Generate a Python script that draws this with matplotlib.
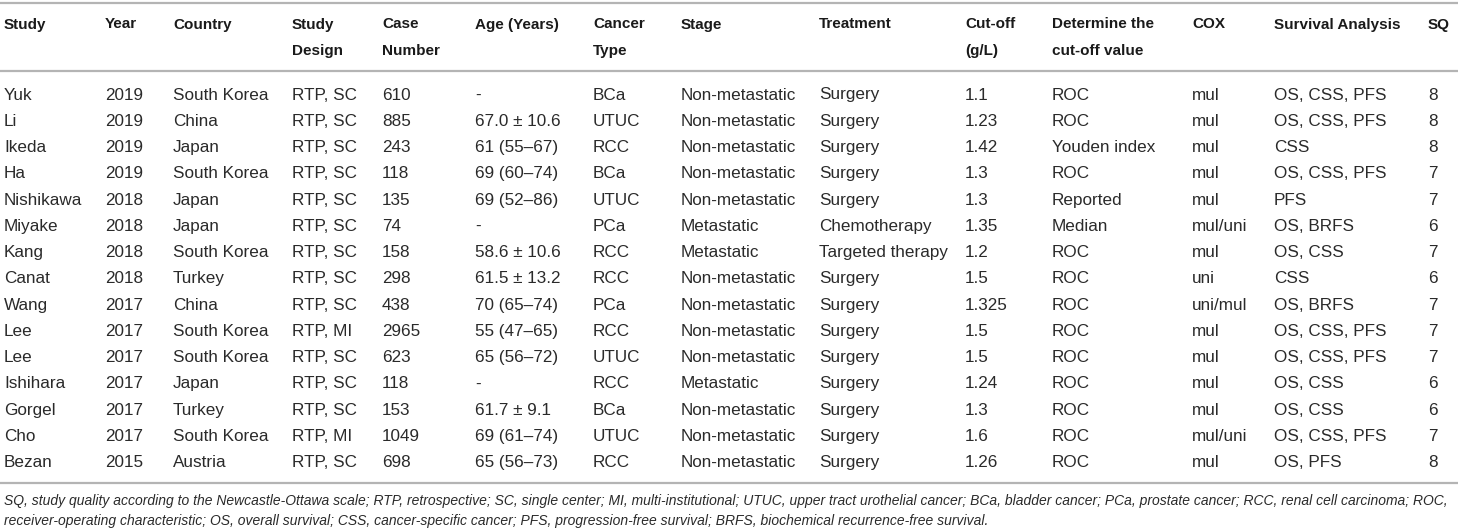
import matplotlib.pyplot as plt
from matplotlib.lines import Line2D

plt.rcParams['font.family'] = ['Liberation Sans', 'DejaVu Sans']

# ---- table data ----
study = ["Yuk", "Li", "Ikeda", "Ha", "Nishikawa", "Miyake", "Kang", "Canat", "Wang",
         "Lee", "Lee", "Ishihara", "Gorgel", "Cho", "Bezan"]
year = ["2019", "2019", "2019", "2019", "2018", "2018", "2018", "2018", "2017",
        "2017", "2017", "2017", "2017", "2017", "2015"]
country = ["South Korea", "China", "Japan", "South Korea", "Japan", "Japan", "South Korea",
           "Turkey", "China", "South Korea", "South Korea", "Japan", "Turkey",
           "South Korea", "Austria"]
design = ["RTP, SC", "RTP, SC", "RTP, SC", "RTP, SC", "RTP, SC", "RTP, SC", "RTP, SC",
          "RTP, SC", "RTP, SC", "RTP, MI", "RTP, SC", "RTP, SC", "RTP, SC", "RTP, MI",
          "RTP, SC"]
cases = ["610", "885", "243", "118", "135", "74", "158", "298", "438", "2965", "623",
         "118", "153", "1049", "698"]
age = ["-", "67.0 \u00b1 10.6", "61 (55\u201367)", "69 (60\u201374)", "69 (52\u201386)", "-",
       "58.6 \u00b1 10.6", "61.5 \u00b1 13.2", "70 (65\u201374)", "55 (47\u201365)",
       "65 (56\u201372)", "-", "61.7 \u00b1 9.1", "69 (61\u201374)", "65 (56\u201373)"]
cancer = ["BCa", "UTUC", "RCC", "BCa", "UTUC", "PCa", "RCC", "RCC", "PCa", "RCC", "UTUC",
          "RCC", "BCa", "UTUC", "RCC"]
stage = ["Non-metastatic", "Non-metastatic", "Non-metastatic", "Non-metastatic",
         "Non-metastatic", "Metastatic", "Metastatic", "Non-metastatic", "Non-metastatic",
         "Non-metastatic", "Non-metastatic", "Metastatic", "Non-metastatic",
         "Non-metastatic", "Non-metastatic"]
treatment = ["Surgery", "Surgery", "Surgery", "Surgery", "Surgery", "Chemotherapy",
             "Targeted therapy", "Surgery", "Surgery", "Surgery", "Surgery", "Surgery",
             "Surgery", "Surgery", "Surgery"]
cutoff = ["1.1", "1.23", "1.42", "1.3", "1.3", "1.35", "1.2", "1.5", "1.325", "1.5", "1.5",
          "1.24", "1.3", "1.6", "1.26"]
method = ["ROC", "ROC", "Youden index", "ROC", "Reported", "Median", "ROC", "ROC", "ROC",
          "ROC", "ROC", "ROC", "ROC", "ROC", "ROC"]
cox = ["mul", "mul", "mul", "mul", "mul", "mul/uni", "mul", "uni", "uni/mul", "mul", "mul",
       "mul", "mul", "mul/uni", "mul"]
survival = ["OS, CSS, PFS", "OS, CSS, PFS", "CSS", "OS, CSS, PFS", "PFS", "OS, BRFS",
            "OS, CSS", "CSS", "OS, BRFS", "OS, CSS, PFS", "OS, CSS, PFS", "OS, CSS",
            "OS, CSS", "OS, CSS, PFS", "OS, PFS"]
sq = ["8", "8", "8", "7", "7", "6", "7", "6", "7", "7", "7", "6", "6", "7", "8"]

headers = [["Study"], ["Year"], ["Country"], ["Study", "Design"], ["Case", "Number"],
           ["Age (Years)"], ["Cancer", "Type"], ["Stage"], ["Treatment"],
           ["Cut-off", "(g/L)"], ["Determine the", "cut-off value"], ["COX"],
           ["Survival Analysis"], ["SQ"]]
columns = [study, year, country, design, cases, age, cancer, stage, treatment,
           cutoff, method, cox, survival, sq]

footnote = ["SQ, study quality according to the Newcastle-Ottawa scale; RTP, retrospective; "
            "SC, single center; MI, multi-institutional; UTUC, upper tract urothelial cancer; "
            "BCa, bladder cancer; PCa, prostate cancer; RCC, renal cell carcinoma; ROC,",
            "receiver-operating characteristic; OS, overall survival; CSS, cancer-specific "
            "cancer; PFS, progression-free survival; BRFS, biochemical recurrence-free survival."]

# ---- layout (pixel units) ----
W, H = 1458, 531
col_x = [4, 105, 173, 292, 382, 475, 593, 681, 819, 965, 1052, 1192, 1274, 1428]
head_base = 28.5
row0 = 99.5
step = 26.27

fig = plt.figure(figsize=(W / 100, H / 100), dpi=100)
ax = fig.add_axes([0, 0, 1, 1])
ax.set_xlim(0, W)
ax.set_ylim(H, 0)
ax.axis('off')

for y in [3, 70.5, 483]:
    ax.add_line(Line2D([0, W], [y, y], color='#b4b4b4', lw=1.6))

for x, lines in zip(col_x, headers):
    for k, s in enumerate(lines):
        ax.text(x, head_base + k * step, s, fontsize=11, fontweight='bold',
                color='#1a1a1a', va='baseline', ha='left')

for x, vals in zip(col_x, columns):
    for i, v in enumerate(vals):
        ax.text(x, row0 + i * step, v, fontsize=12.3, color='#2a2a2a',
                va='baseline', ha='left')

for k, s in enumerate(footnote):
    ax.text(4, 505.5 + k * 19.5, s, fontsize=10.0, style='italic', color='#2a2a2a',
            va='baseline', ha='left')

fig.savefig('out.png', dpi=100)
